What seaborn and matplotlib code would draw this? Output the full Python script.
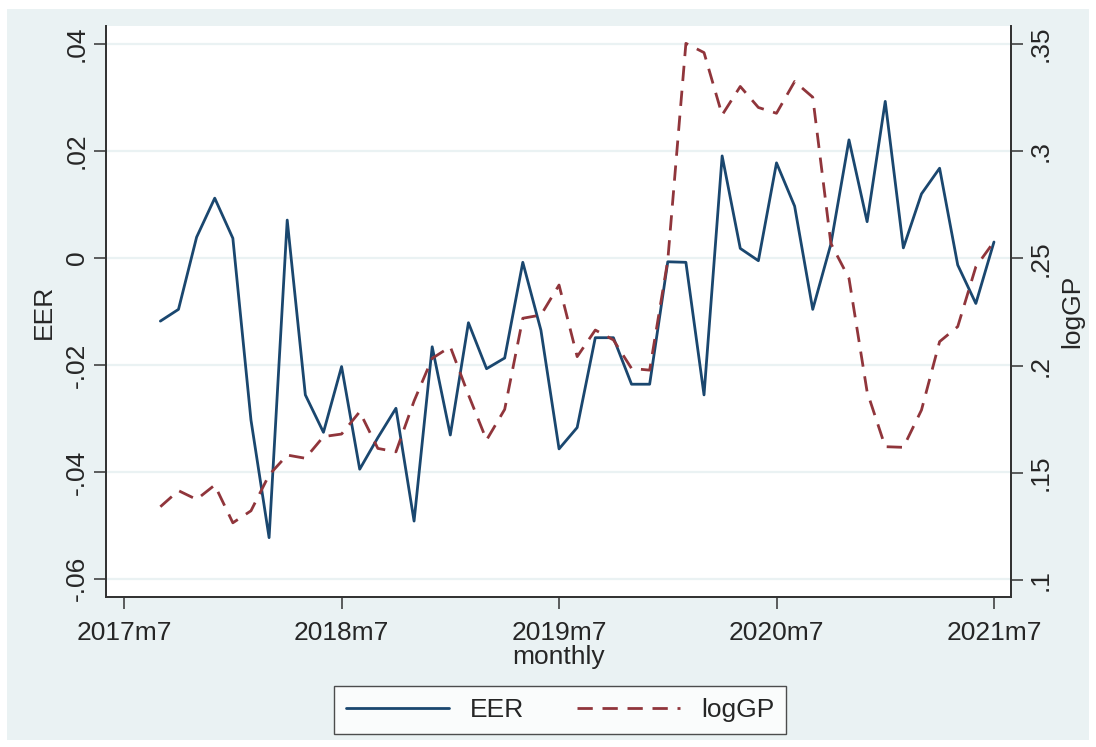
import numpy as np
import pandas as pd
import matplotlib
matplotlib.use("Agg")
import matplotlib.pyplot as plt
import matplotlib.patches as mpatches
import seaborn as sns

# ------------------------------------------------------------------
# data: monthly, 2017m9 .. 2021m7  (month index 0 = 2017m7)
# ------------------------------------------------------------------
months = list(range(2, 49))

eer = [
    -0.0118, -0.0096, 0.0039, 0.0112, 0.0037, -0.0303, -0.0523, 0.0071,
    -0.0256, -0.0326, -0.0203, -0.0395, -0.0336, -0.0281, -0.0492, -0.0166,
    -0.0331, -0.0121, -0.0207, -0.0187, -0.0008, -0.0135, -0.0357, -0.0317,
    -0.0149, -0.0149, -0.0236, -0.0236, -0.0007, -0.0008, -0.0256, 0.0191,
    0.0018, -0.0005, 0.0178, 0.0097, -0.0096, 0.0026, 0.0221, 0.0068,
    0.0293, 0.0019, 0.0120, 0.0168, -0.0013, -0.0085, 0.0030,
]

loggp = [
    0.1342, 0.1417, 0.1376, 0.1443, 0.1267, 0.1323, 0.1490, 0.1583,
    0.1568, 0.1669, 0.1681, 0.1785, 0.1614, 0.1598, 0.1835, 0.2034,
    0.2088, 0.1864, 0.1653, 0.1796, 0.2221, 0.2236, 0.2376, 0.2042,
    0.2166, 0.2120, 0.1987, 0.1979, 0.2491, 0.3503, 0.3460, 0.3169,
    0.3302, 0.3204, 0.3177, 0.3325, 0.3252, 0.2570, 0.2407, 0.1878,
    0.1622, 0.1619, 0.1793, 0.2112, 0.2182, 0.2461, 0.2578,
]

x_ticks = [0, 12, 24, 36, 48]
x_labels = ["2017m7", "2018m7", "2019m7", "2020m7", "2021m7"]
left_ticks = [0.04, 0.02, 0, -0.02, -0.04, -0.06]
left_labels = [".04", ".02", "0", "-.02", "-.04", "-.06"]
right_ticks = [0.35, 0.3, 0.25, 0.2, 0.15, 0.1]
right_labels = [".35", ".3", ".25", ".2", ".15", ".1"]

df = pd.DataFrame({"monthly": months, "EER": eer, "logGP": loggp})

# ------------------------------------------------------------------
# style
# ------------------------------------------------------------------
sns.set_style("white")
plt.rcParams["font.family"] = ["Liberation Sans", "DejaVu Sans"]

BG = "#eaf2f3"
NAVY = "#1a476f"
MAROON = "#90353b"
FS = 19

fig = plt.figure(figsize=(10.96, 7.47), dpi=100)
fig.patch.set_facecolor("white")
fig.patches.append(mpatches.Rectangle(
    (7 / 1096, 1 - 740 / 747), (1089 - 7) / 1096, (740 - 9) / 747,
    transform=fig.transFigure, facecolor=BG, edgecolor="none", zorder=-10))

ax = fig.add_axes([106 / 1096, 1 - 597 / 747, (1011 - 106) / 1096, (597 - 26) / 747])
ax.set_facecolor("white")
ax2 = ax.twinx()

sns.lineplot(data=df, x="monthly", y="EER", ax=ax, color=NAVY, linewidth=2.0)
sns.lineplot(data=df, x="monthly", y="logGP", ax=ax2, color=MAROON, linewidth=2.0,
             linestyle=(0, (5.5, 3.5)))

ax.set_xlim(-1.0, 48.94)
ax.set_ylim(-0.0634, 0.0434)
ax2.set_ylim(0.0921, 0.3584)

ax.set_xticks(x_ticks)
ax.set_xticklabels(x_labels)
ax.set_yticks(left_ticks)
ax.set_yticklabels(left_labels, rotation=90, va="center")
ax2.set_yticks(right_ticks)
ax2.set_yticklabels(right_labels, rotation=90, va="center")

ax.grid(axis="y", color=BG, linewidth=1.6)
ax.set_axisbelow(True)

for a in (ax, ax2):
    a.spines["top"].set_visible(False)
    for s in ("left", "right", "bottom"):
        a.spines[s].set_color("#333333")
        a.spines[s].set_linewidth(1.3)
ax.tick_params(axis="y", direction="out", length=8.5, width=1.1, color="#333333",
               labelsize=FS, pad=4, left=True)
ax.tick_params(axis="x", direction="out", length=8.5, width=1.1, color="#333333",
               labelsize=FS, pad=9, bottom=True)
ax2.tick_params(axis="y", direction="out", length=8.5, width=1.1, color="#333333",
                labelsize=FS, pad=4, right=True)

ax.set_xlabel("monthly", fontsize=FS, labelpad=0)
ax.set_ylabel("EER", fontsize=FS, labelpad=6)
ax2.set_ylabel("logGP", fontsize=FS, labelpad=6)

# legend below the plot
h1 = ax.get_lines()[0]
h2 = ax2.get_lines()[0]
leg = fig.legend([h1, h2], ["EER", "logGP"], loc="center",
                 bbox_to_anchor=(560 / 1096, 1 - 710 / 747), ncol=2,
                 fontsize=FS, frameon=True, fancybox=False, handlelength=3.9,
                 columnspacing=2.0, borderpad=0.45, handletextpad=0.8)
leg.get_frame().set_edgecolor("#222222")
leg.get_frame().set_linewidth(1.0)

fig.savefig("out.png", dpi=100, facecolor=fig.get_facecolor())
